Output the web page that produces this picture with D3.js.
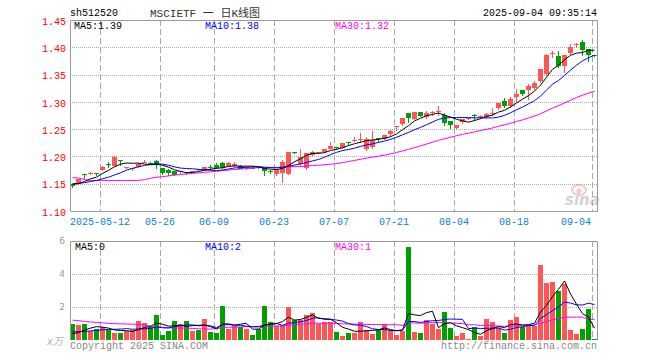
<!DOCTYPE html>
<html>
<head>
<meta charset="utf-8">
<script src="https://cdn.jsdelivr.net/npm/d3@7"></script>
<style>
  body { margin: 0; background: #fff; }
  text { font-family: "Liberation Mono", "DejaVu Sans Mono", "Noto Sans CJK SC", monospace; }
</style>
</head>
<body>
<div id="svg-area"></div>
<script>
// chart data
var dates = ["04-30","05-06","05-07","05-08","05-09",
  "05-12","05-13","05-14","05-15","05-16","05-19","05-20","05-21","05-22","05-23",
  "05-26","05-27","05-28","05-29","05-30","06-03","06-04","06-05","06-06",
  "06-09","06-10","06-11","06-12","06-13","06-16","06-17","06-18","06-19","06-20",
  "06-23","06-24","06-25","06-26","06-27","06-30","07-01","07-02","07-03","07-04",
  "07-07","07-08","07-09","07-10","07-11","07-14","07-15","07-16","07-17","07-18",
  "07-21","07-22","07-23","07-24","07-25","07-28","07-29","07-30","07-31","08-01",
  "08-04","08-05","08-06","08-07","08-08","08-11","08-12","08-13","08-14","08-15",
  "08-18","08-19","08-20","08-21","08-22","08-25","08-26","08-27","08-28","08-29",
  "09-01","09-02","09-03","09-04"];

var openP = [1.150,1.151,1.1672,1.1695,1.170,1.176,1.1855,1.1833,1.194,1.1805,
  1.1775,1.1815,1.1903,1.188,1.192,1.179,1.1747,1.174,1.1716,1.1722,
  1.173,1.1762,1.176,1.1812,1.185,1.1877,1.1827,1.1827,1.1827,1.178,
  1.1795,1.181,1.178,1.1725,1.1673,1.1698,1.1673,1.2075,1.1858,1.178,
  1.2037,1.206,1.2086,1.2136,1.2172,1.2155,1.2268,1.2303,1.2307,1.2137,
  1.2167,1.2334,1.232,1.241,1.256,1.2582,1.279,1.268,1.281,1.2717,
  1.2803,1.2815,1.2766,1.2644,1.2534,1.2632,1.2692,1.2768,1.273,1.2717,
  1.279,1.2888,1.3022,1.2925,1.3083,1.3224,1.3218,1.3249,1.337,1.3511,
  1.3885,1.3835,1.3664,1.389,1.4055,1.4098,1.3963,1.385];

var highP = [1.150,1.158,1.1672,1.172,1.170,1.183,1.189,1.200,1.1942,1.1815,
  1.179,1.1875,1.193,1.189,1.194,1.179,1.1765,1.174,1.1735,1.1722,
  1.1742,1.1765,1.1815,1.1835,1.1875,1.189,1.190,1.189,1.1835,1.1805,
  1.180,1.1815,1.178,1.1745,1.1755,1.193,1.2086,1.209,1.2136,1.206,
  1.210,1.2086,1.2136,1.226,1.2175,1.224,1.227,1.235,1.2425,1.235,
  1.247,1.2335,1.2387,1.249,1.2565,1.2698,1.279,1.281,1.281,1.284,
  1.284,1.2918,1.279,1.2644,1.2583,1.2692,1.2705,1.277,1.2766,1.279,
  1.289,1.2986,1.3065,1.3083,1.3236,1.3224,1.3328,1.339,1.3597,1.388,
  1.3939,1.393,1.3866,1.406,1.4085,1.4134,1.3963,1.385];

var lowP = [1.144,1.150,1.1605,1.168,1.1665,1.175,1.181,1.1833,1.185,1.178,
  1.176,1.181,1.189,1.1865,1.178,1.168,1.1665,1.166,1.1705,1.168,
  1.172,1.175,1.1755,1.1775,1.1785,1.178,1.1827,1.1827,1.178,1.1775,
  1.178,1.1785,1.1655,1.170,1.1655,1.153,1.1673,1.2055,1.184,1.1768,
  1.2025,1.2055,1.2086,1.2136,1.2135,1.2155,1.2228,1.2277,1.2265,1.212,
  1.2155,1.229,1.232,1.240,1.2485,1.2582,1.2625,1.268,1.2735,1.2705,
  1.2766,1.276,1.2583,1.252,1.251,1.262,1.269,1.2668,1.2705,1.2705,
  1.2766,1.287,1.291,1.2913,1.302,1.3132,1.305,1.3237,1.336,1.3499,
  1.3817,1.3634,1.354,1.388,1.400,1.385,1.3743,1.3845];

var closeP = [1.146,1.158,1.1667,1.170,1.1695,1.181,1.185,1.1994,1.1935,1.181,
  1.178,1.187,1.1907,1.1875,1.1846,1.170,1.1685,1.1673,1.1728,1.1718,
  1.1735,1.1758,1.181,1.1805,1.180,1.179,1.1877,1.1864,1.178,1.180,
  1.179,1.1805,1.1716,1.172,1.1753,1.190,1.2074,1.207,1.199,1.206,
  1.2086,1.2074,1.2136,1.2185,1.2167,1.224,1.2264,1.2307,1.232,1.232,
  1.230,1.233,1.2387,1.2472,1.2565,1.2698,1.2698,1.281,1.2735,1.279,
  1.2815,1.2827,1.2613,1.2564,1.2583,1.268,1.2698,1.2764,1.2742,1.2778,
  1.2803,1.2973,1.293,1.3047,1.3144,1.3157,1.3297,1.334,1.3597,1.386,
  1.389,1.3646,1.3866,1.400,1.406,1.395,1.386,1.3845];

var ma5 = [1.149,1.150,1.154,1.159,1.162,1.169,1.1744,1.181,1.1857,1.188,
  1.1874,1.1878,1.186,1.1848,1.1856,1.184,1.1803,1.1756,1.1726,1.1701,
  1.1708,1.1722,1.175,1.1765,1.1782,1.1793,1.1816,1.1827,1.1822,1.1822,
  1.1822,1.1809,1.1779,1.1767,1.1758,1.178,1.1833,1.1903,1.1957,1.2019,
  1.2056,1.2056,1.2069,1.2108,1.213,1.216,1.2198,1.2233,1.226,1.229,
  1.2302,1.2315,1.2331,1.2362,1.2411,1.249,1.2564,1.2649,1.2701,1.2746,
  1.277,1.2795,1.2756,1.2722,1.268,1.2653,1.2628,1.2658,1.2693,1.2732,
  1.2757,1.2812,1.2845,1.2906,1.2979,1.305,1.3115,1.3197,1.3307,1.345,
  1.3597,1.3667,1.3772,1.3852,1.3892,1.3904,1.3947,1.3943];

var ma10 = [1.150,1.1505,1.152,1.154,1.156,1.159,1.162,1.166,1.170,1.175,
  1.1782,1.1811,1.1835,1.1853,1.1868,1.1857,1.184,1.1808,1.1787,1.1778,
  1.1774,1.1763,1.1753,1.1746,1.1741,1.175,1.1769,1.1789,1.1794,1.1802,
  1.1807,1.1813,1.1803,1.1795,1.179,1.1801,1.1821,1.1841,1.1862,1.1888,
  1.1918,1.1944,1.1986,1.2033,1.2074,1.2108,1.2127,1.2151,1.2184,1.221,
  1.2231,1.2257,1.2282,1.2311,1.2351,1.2396,1.244,1.249,1.2532,1.2579,
  1.263,1.268,1.2702,1.2712,1.2713,1.2712,1.2712,1.2707,1.2708,1.2706,
  1.2705,1.272,1.2752,1.28,1.2856,1.2904,1.2964,1.3021,1.3107,1.3215,
  1.3324,1.3391,1.3484,1.358,1.3671,1.3751,1.3807,1.3857];

var ma30 = [1.161,1.1605,1.1575,1.156,1.156,1.156,1.156,1.156,1.156,1.156,
  1.156,1.156,1.1575,1.160,1.1617,1.163,1.1642,1.166,1.1667,1.168,
  1.169,1.1698,1.171,1.1716,1.1728,1.174,1.175,1.176,1.1768,1.1777,
  1.1788,1.1795,1.1797,1.1798,1.18,1.1803,1.181,1.1813,1.1814,1.1823,
  1.1833,1.184,1.1847,1.1858,1.1868,1.1886,1.1906,1.1927,1.1947,1.1967,
  1.1986,1.2005,1.2024,1.2046,1.2072,1.2102,1.2129,1.2161,1.2193,1.2226,
  1.226,1.2294,1.2324,1.2352,1.2379,1.2405,1.2426,1.2449,1.2474,1.2498,
  1.2522,1.2552,1.2579,1.2607,1.264,1.267,1.2705,1.2739,1.2782,1.2833,
  1.2886,1.293,1.2979,1.303,1.308,1.3122,1.3161,1.3195];

var volume = [0.97,0.91,0.97,0.55,0.67,0.79,0.61,0.42,0.42,0.55,
  0.61,1.15,1.03,0.79,1.52,0.30,0.55,1.15,0.97,1.15,
  0.55,0.61,1.27,0.48,0.42,2.06,0.67,0.85,0.79,0.67,
  0.30,0.67,2.06,1.09,0.85,0.91,2.00,1.21,1.21,1.52,
  1.64,0.97,1.09,1.09,0.48,0.24,0.42,0.42,1.09,0.61,
  0.36,0.61,0.97,0.61,0.30,0.55,5.64,0.48,0.42,1.21,
  0.95,0.67,1.70,0.73,0.24,0.42,0.06,0.79,0.24,1.27,
  1.09,0.73,0.42,1.21,1.39,0.79,0.85,0.85,4.55,3.45,
  3.52,2.97,3.39,0.61,0.36,0.67,1.88,0.06];

var volMa5 = [0.38,0.45,0.60,0.72,0.81,0.78,0.72,0.61,0.58,0.56,
  0.52,0.63,0.75,0.83,1.02,0.96,0.84,0.86,0.90,0.82,
  0.87,0.89,0.91,0.81,0.67,0.97,0.98,0.90,0.96,1.01,
  0.66,0.66,0.90,0.96,0.99,1.12,1.38,1.21,1.24,1.37,
  1.52,1.31,1.29,1.26,1.05,0.77,0.66,0.53,0.53,0.56,
  0.58,0.62,0.73,0.63,0.57,0.61,1.61,1.52,1.48,1.66,
  1.74,0.75,0.99,1.05,0.86,0.75,0.63,0.45,0.35,0.56,
  0.69,0.82,0.75,0.94,0.97,0.91,0.93,1.02,1.69,2.10,
  2.64,3.07,3.58,2.79,2.17,1.60,1.38,0.72];

var volMa10 = [0.50,0.50,0.52,0.55,0.58,0.62,0.64,0.65,0.66,0.69,
  0.65,0.67,0.68,0.70,0.79,0.74,0.73,0.81,0.86,0.92,
  0.92,0.86,0.89,0.86,0.75,0.92,0.93,0.90,0.89,0.84,
  0.81,0.82,0.90,0.96,1.00,0.89,1.02,1.06,1.10,1.18,
  1.32,1.35,1.25,1.25,1.21,1.15,0.99,0.91,0.90,0.81,
  0.68,0.64,0.63,0.58,0.56,0.59,1.12,1.12,1.06,1.12,
  1.17,1.18,1.25,1.27,1.26,1.25,0.69,0.72,0.70,0.71,
  0.72,0.73,0.60,0.65,0.76,0.80,0.88,0.88,1.32,1.53,
  1.78,2.00,2.30,2.24,2.13,2.12,2.23,2.15];

var volMa30 = [1.20,1.18,1.12,1.09,1.07,1.04,1.01,0.99,0.98,0.97,
  0.96,0.95,0.90,0.84,0.80,0.77,0.74,0.73,0.72,0.72,
  0.70,0.68,0.67,0.66,0.68,0.76,0.77,0.78,0.79,0.82,
  0.79,0.79,0.82,0.84,0.85,0.85,0.90,0.92,0.95,0.98,
  1.02,1.01,1.01,1.02,0.99,0.98,0.98,0.96,0.96,0.94,
  0.94,0.94,0.93,0.93,0.93,0.88,1.04,1.03,1.02,1.03,
  1.06,1.06,1.04,1.03,1.01,1.00,0.93,0.92,0.88,0.88,
  0.86,0.85,0.83,0.83,0.86,0.88,0.89,0.91,1.02,1.12,
  1.22,1.30,1.38,1.38,1.39,1.39,1.26,1.25];

var tickDates = ["05-12","05-26","06-09","06-23","07-07","07-21","08-04","08-18","09-04"];
var tickLabels = ["2025-05-12","05-26","06-09","06-23","07-07","07-21","08-04","08-18","09-04"];
var priceTicks = [1.10,1.15,1.20,1.25,1.30,1.35,1.40,1.45];
var volTicks = [2,4,6];

// layout
var svgWidth = 660;
var svgHeight = 360;
var left = 70, right = 597;
var priceTop = 20, priceBottom = 211;
var volTop = 241, volBottom = 340;

var red = "#ff5555", green = "#00a000";
var gridColor = "#a8a8a8", borderColor = "#999";

var rows = dates.map(function(d, i) {
  return { date: d, open: openP[i], high: highP[i], low: lowP[i], close: closeP[i],
    vol: volume[i], ma5: ma5[i], ma10: ma10[i], ma30: ma30[i],
    vma5: volMa5[i], vma10: volMa10[i], vma30: volMa30[i] };
});

var svg = d3.select("#svg-area")
  .append("svg")
  .attr("width", svgWidth)
  .attr("height", svgHeight);

svg.append("rect").attr("width", svgWidth).attr("height", svgHeight).attr("fill", "#fff");

// scales
var xBand = d3.scaleBand()
  .domain(dates)
  .range([left, right])
  .paddingInner(1 / 6)
  .paddingOuter(0);

var yPrice = d3.scaleLinear().domain([1.10, 1.45]).range([priceBottom, priceTop]);
var yVol = d3.scaleLinear().domain([0, 6]).range([volBottom, volTop]);

function mid(d) { return Math.round(xBand(d)) + 2.5; }

// header texts
svg.append("text").attr("x", 70).attr("y", 16).attr("font-size", 10).attr("fill", "#000").text("sh512520");
svg.append("text").attr("x", 150).attr("y", 17).attr("font-size", 11).attr("fill", "#333")
  .style("font-family", '"Liberation Mono","Noto Sans CJK SC",monospace').text("MSCIETF 一 日K线图");
svg.append("text").attr("x", 597).attr("y", 16).attr("font-size", 10).attr("fill", "#000")
  .attr("text-anchor", "end").text("2025-09-04 09:35:14");

////////////////////////////
//////// price panel ///////
////////////////////////////
var priceG = svg.append("g");

// horizontal dotted grid
priceG.selectAll(".hgrid")
  .data(priceTicks.filter(function(t) { return t > 1.10 && t < 1.45; }))
  .enter().append("line")
  .attr("x1", left).attr("x2", right)
  .attr("y1", function(d) { return Math.round(yPrice(d)) + 0.5; })
  .attr("y2", function(d) { return Math.round(yPrice(d)) + 0.5; })
  .attr("stroke", gridColor).attr("stroke-dasharray", "1,1");

// vertical dashed grid
priceG.selectAll(".vgrid")
  .data(tickDates)
  .enter().append("line")
  .attr("x1", function(d) { return Math.round(xBand(d)) + 0.5; })
  .attr("x2", function(d) { return Math.round(xBand(d)) + 0.5; })
  .attr("y1", priceTop).attr("y2", priceBottom)
  .attr("stroke", gridColor).attr("stroke-dasharray", "6,3");

// watermark
var wm = priceG.append("g").attr("opacity", 0.5);
wm.append("ellipse").attr("cx", 579).attr("cy", 190).attr("rx", 7).attr("ry", 5)
  .attr("fill", "none").attr("stroke", "#f08a8a").attr("stroke-width", 2);
wm.append("circle").attr("cx", 579).attr("cy", 191).attr("r", 2.5).attr("fill", "#f08a8a");
wm.append("text").attr("x", 565).attr("y", 205).attr("font-size", 15)
  .style("font-family", '"DejaVu Sans",sans-serif').attr("font-style", "italic").attr("font-weight", "bold")
  .attr("fill", "#a8a8a8").text("sina");

// y axis labels
var yAxis = d3.axisLeft(yPrice).tickValues(priceTicks).tickFormat(d3.format(".2f")).tickSize(0).tickPadding(4);
var yAxisG = priceG.append("g").attr("transform", "translate(" + left + ",1)").call(yAxis);
yAxisG.select(".domain").remove();
yAxisG.selectAll("text").attr("fill", "#f00").attr("font-size", 10)
  .style("font-family", '"Liberation Mono","DejaVu Sans Mono",monospace');

// candles
var candles = priceG.selectAll(".candle")
  .data(rows)
  .enter().append("g");

candles.append("line")
  .attr("x1", function(d) { return mid(d.date); })
  .attr("x2", function(d) { return mid(d.date); })
  .attr("y1", function(d) { return Math.round(yPrice(d.high)); })
  .attr("y2", function(d) { return Math.round(yPrice(d.low)) + 1; })
  .attr("stroke", function(d) { return d.close >= d.open ? red : green; });

candles.append("rect")
  .attr("x", function(d) { return Math.round(xBand(d.date)); })
  .attr("width", xBand.bandwidth())
  .attr("y", function(d) { return Math.round(yPrice(Math.max(d.open, d.close))); })
  .attr("height", function(d) { return Math.max(1, Math.round(Math.abs(yPrice(d.open) - yPrice(d.close)))); })
  .attr("fill", function(d) { return d.close >= d.open ? red : green; })
  .attr("shape-rendering", "crispEdges");

// moving averages
function drawLine(g, key, scale, color) {
  var line = d3.line()
    .x(function(d) { return mid(d.date); })
    .y(function(d) { return scale(d[key]); });
  g.append("path").datum(rows)
    .attr("d", line)
    .attr("fill", "none")
    .attr("stroke", color)
    .attr("stroke-width", 1);
}
drawLine(priceG, "ma30", yPrice, "#ff00ff");
drawLine(priceG, "ma10", yPrice, "#0000ff");
drawLine(priceG, "ma5", yPrice, "#000");

// frame
priceG.append("path")
  .attr("d", "M" + (left + 0.5) + "," + priceBottom + "V" + (priceTop + 0.5) + "H" + (right + 0.5) + "V" + (priceBottom + 0.5) + "H" + (left + 0.5))
  .attr("fill", "none").attr("stroke", borderColor);

// legend
priceG.append("text").attr("x", 74).attr("y", 29).attr("font-size", 10).attr("fill", "#000").text("MA5:1.39");
priceG.append("text").attr("x", 205).attr("y", 29).attr("font-size", 10).attr("fill", "#0000ff").text("MA10:1.38");
priceG.append("text").attr("x", 335).attr("y", 29).attr("font-size", 10).attr("fill", "#ff00ff").text("MA30:1.32");

// date labels
priceG.selectAll(".xlabel")
  .data(tickDates)
  .enter().append("text")
  .attr("y", 225)
  .attr("font-size", 10)
  .attr("fill", "#0a7fd8")
  .attr("text-anchor", function(d) { return d === "09-04" ? "end" : "middle"; })
  .attr("x", function(d) { return d === "09-04" ? 591 : Math.round(xBand(d)); })
  .text(function(d, i) { return tickLabels[i]; });

////////////////////////////
/////// volume panel ///////
////////////////////////////
var volG = svg.append("g");

volG.selectAll(".hgrid")
  .data([2, 4])
  .enter().append("line")
  .attr("x1", left).attr("x2", right)
  .attr("y1", function(d) { return Math.round(yVol(d)) + 0.5; })
  .attr("y2", function(d) { return Math.round(yVol(d)) + 0.5; })
  .attr("stroke", gridColor).attr("stroke-dasharray", "1,1");

volG.selectAll(".vgrid")
  .data(tickDates)
  .enter().append("line")
  .attr("x1", function(d) { return Math.round(xBand(d)) + 0.5; })
  .attr("x2", function(d) { return Math.round(xBand(d)) + 0.5; })
  .attr("y1", volTop).attr("y2", volBottom)
  .attr("stroke", gridColor).attr("stroke-dasharray", "6,3");

var vAxis = d3.axisLeft(yVol).tickValues(volTicks).tickFormat(d3.format("d")).tickSize(0).tickPadding(5);
var vAxisG = volG.append("g").attr("transform", "translate(" + left + ",0)").call(vAxis);
vAxisG.select(".domain").remove();
vAxisG.selectAll("text").attr("fill", "#999").attr("font-size", 9)
  .style("font-family", '"DejaVu Sans",sans-serif');

volG.append("text").attr("x", 63).attr("y", 345).attr("text-anchor", "end")
  .attr("font-size", 10).attr("fill", "#b0b0b0").attr("font-style", "italic")
  .style("font-family", '"DejaVu Sans","Noto Sans CJK SC",sans-serif').text("x万");

volG.selectAll(".vbar")
  .data(rows)
  .enter().append("rect")
  .attr("x", function(d) { return Math.round(xBand(d.date)); })
  .attr("width", xBand.bandwidth())
  .attr("y", function(d) { return Math.round(yVol(d.vol)); })
  .attr("height", function(d) { return volBottom - Math.round(yVol(d.vol)); })
  .attr("fill", function(d) { return d.close >= d.open ? red : green; })
  .attr("shape-rendering", "crispEdges");

drawLine(volG, "vma30", yVol, "#ff00ff");
drawLine(volG, "vma10", yVol, "#0000ff");
drawLine(volG, "vma5", yVol, "#000");

volG.append("path")
  .attr("d", "M" + (left + 0.5) + "," + volBottom + "V" + (volTop + 0.5) + "H" + (right + 0.5) + "V" + volBottom)
  .attr("fill", "none").attr("stroke", borderColor);

volG.append("text").attr("x", 75).attr("y", 250).attr("font-size", 10).attr("fill", "#000").text("MA5:0");
volG.append("text").attr("x", 205).attr("y", 250).attr("font-size", 10).attr("fill", "#0000ff").text("MA10:2");
volG.append("text").attr("x", 335).attr("y", 250).attr("font-size", 10).attr("fill", "#ff00ff").text("MA30:1");

// footer
svg.append("text").attr("x", 70).attr("y", 349).attr("font-size", 10).attr("fill", "#888").text("Copyright 2025 SINA.COM");
svg.append("text").attr("x", 597).attr("y", 349).attr("font-size", 10).attr("fill", "#888")
  .attr("text-anchor", "end").text("http://finance.sina.com.cn");
</script>
</body>
</html>
